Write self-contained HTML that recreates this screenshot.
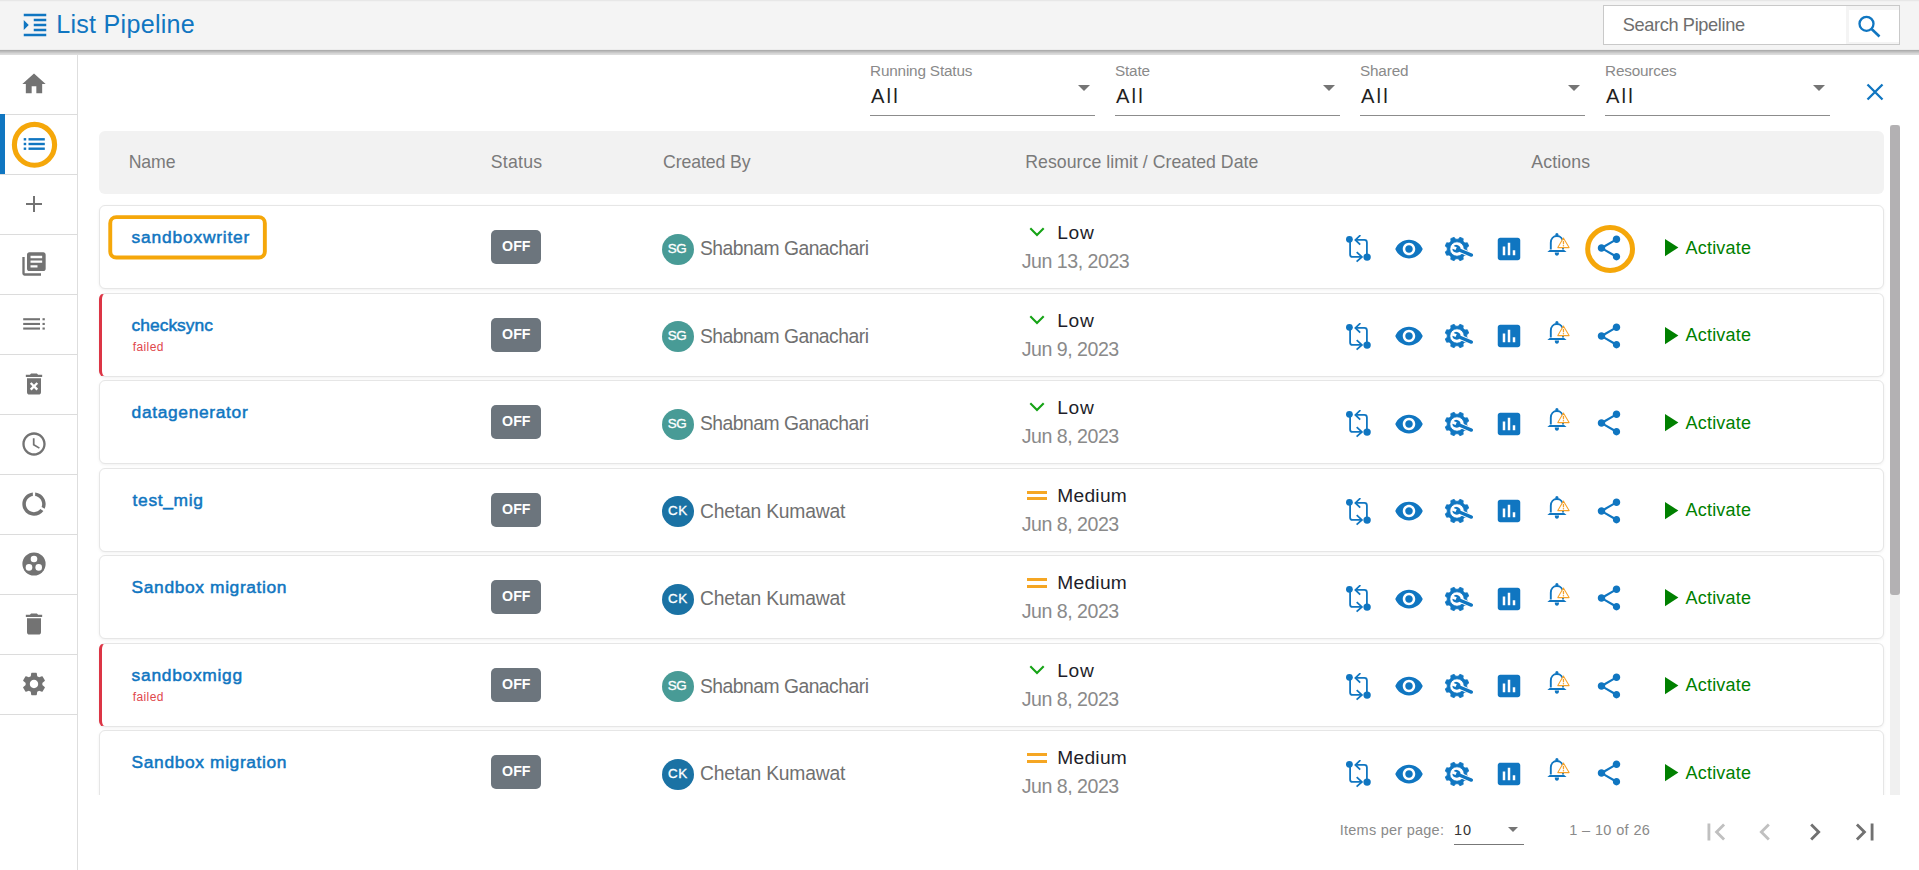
<!DOCTYPE html><html><head><meta charset="utf-8"><style>
*{margin:0;padding:0;box-sizing:border-box}
html,body{width:1919px;height:870px;overflow:hidden;background:#fff;font-family:"Liberation Sans",sans-serif}
.t{position:absolute;line-height:1;white-space:nowrap}
.a{position:absolute}
svg{position:absolute;overflow:visible}
</style></head><body>
<svg width="0" height="0" style="position:absolute">
<defs>
<symbol id="cmp" viewBox="0 0 28 28">
 <g fill="none" stroke="#1076c1" stroke-width="1.8">
  <path d="M5.1 4.3 V19.4 Q5.1 21.9 7.6 21.9 H16.8"/>
  <path d="M11.7 17.1 L16.9 21.9 L11.6 26.6"/>
  <path d="M21.9 22.1 V7.4 Q21.9 4.9 19.4 4.9 H10.6"/>
  <path d="M15.4 0.2 L10.4 4.9 L15.2 9.6"/>
 </g>
 <circle cx="4.4" cy="4.3" r="3.4" fill="#1076c1"/>
 <circle cx="22.1" cy="22.1" r="3.7" fill="#1076c1"/>
</symbol>
<symbol id="eye" viewBox="0 0 24 24"><path fill="#1076c1" d="M12 4.5C7 4.5 2.73 7.61 1 12c1.73 4.39 6 7.5 11 7.5s9.27-3.11 11-7.5c-1.73-4.39-6-7.5-11-7.5zM12 17c-2.76 0-5-2.24-5-5s2.24-5 5-5 5 2.24 5 5-2.24 5-5 5zm0-8c-1.66 0-3 1.34-3 3s1.34 3 3 3 3-1.34 3-3-1.34-3-3-3z"/></symbol>
<symbol id="chart" viewBox="0 0 24 24"><path fill="#1076c1" d="M19 3H5c-1.1 0-2 .9-2 2v14c0 1.1.9 2 2 2h14c1.1 0 2-.9 2-2V5c0-1.1-.9-2-2-2zM9 17H7v-7h2v7zm4 0h-2V7h2v10zm4 0h-2v-4h2v4z"/></symbol>
<symbol id="share" viewBox="0 0 24 24"><path fill="#1076c1" d="M18 16.08c-.76 0-1.44.3-1.96.77L8.91 12.7c.05-.23.09-.46.09-.7s-.04-.47-.09-.7l7.05-4.11c.54.5 1.25.81 2.04.81 1.66 0 3-1.34 3-3s-1.34-3-3-3-3 1.34-3 3c0 .24.04.47.09.7L8.04 9.81C7.5 9.31 6.79 9 6 9c-1.66 0-3 1.34-3 3s1.34 3 3 3c.79 0 1.5-.31 2.04-.81l7.12 4.16c-.05.21-.08.43-.08.65 0 1.61 1.31 2.92 2.92 2.92 1.61 0 2.92-1.31 2.92-2.92s-1.31-2.92-2.92-2.92z"/></symbol>
<symbol id="bell" viewBox="0 0 28 28">
 <circle cx="11.9" cy="3.7" r="1.6" fill="#1076c1"/>
 <path d="M5.8 18.6 V11.8 C5.8 7.7 8.5 5 11.9 5 C15.3 5 18 7.7 18 11.8 V18.6" fill="none" stroke="#1076c1" stroke-width="1.9"/>
 <path d="M2.4 21 L4.6 19 H19.2 L21.5 21 Z" fill="#1076c1"/>
 <path d="M9.8 21.5 H14 A2.1 3.3 0 0 1 9.8 21.5 Z" fill="#1076c1"/>
 <path d="M18.4 7 L24.1 16.6 H12.8 Z" fill="#fff" stroke="#f5a12a" stroke-width="1.05" stroke-linejoin="round"/>
 <path d="M18.45 9.9 V13.3" stroke="#f5a12a" stroke-width="1.3"/><circle cx="18.45" cy="14.8" r=".75" fill="#f5a12a"/>
</symbol>
<symbol id="warn" viewBox="0 0 14 13">
 <path d="M7 1 L13 12 H1 Z" fill="#fff" stroke="#f39c12" stroke-width="1.1" stroke-linejoin="round"/>
 <path d="M7 4.5 V8.5" stroke="#f39c12" stroke-width="1.2"/><circle cx="7" cy="10.2" r=".7" fill="#f39c12"/>
</symbol>
<symbol id="gw" viewBox="0 0 30 26">
 <g fill="#1076c1">
  <path id="gearpath" fill-rule="evenodd" d=""/>
 </g>
</symbol>
</defs></svg>
<div class="a" style="left:0;top:0;width:1919px;height:50px;background:linear-gradient(#e7e7e7 0,#e7e7e7 1px,#f1f1f1 1px,#f1f1f1 2px,#f4f4f4 2px);z-index:5"></div>
<div class="a" style="left:0;top:49px;width:1919px;height:1px;background:#ededed;z-index:5"></div>
<div class="a" style="left:0;top:50px;width:1919px;height:5px;background:linear-gradient(#adadad 0,#adadad 1px,#bbb 1px,#bbb 2px,#c8c8c8 2px,#c8c8c8 3px,#d5d5d5 3px,#d5d5d5 4px,#dcdcdc 4px);z-index:5"></div>
<svg style="left:20px;top:10px;z-index:6" width="30" height="30" viewBox="0 0 24 24"><path fill="#1076c1" d="M3 21h18v-2H3v2zM3 8v8l4-4-4-4zm8 9h10v-2H11v2zM3 3v2h18V3H3zm8 6h10V7H11v2zm0 4h10v-2H11v2z"/></svg>
<div class="t" style="left:56.20px;top:12px;font-size:25.1px;color:#1076c1;font-weight:400;letter-spacing:0.275px;z-index:6">List Pipeline</div>
<div class="a" style="left:1603px;top:5px;width:297px;height:40px;background:#fff;border:1px solid #c9c9c9;z-index:6"></div>
<div class="a" style="left:1846px;top:6px;width:53px;height:38px;background:#f4f4f4;z-index:6"></div>
<div class="a" style="left:1849px;top:10px;width:50px;height:32px;background:#fff;z-index:6"></div>
<div class="t" style="left:1622.70px;top:16px;font-size:18.2px;color:#6e6e6e;font-weight:400;letter-spacing:-0.357px;z-index:7">Search Pipeline</div>
<svg style="left:1857px;top:14px;z-index:7" width="26" height="26" viewBox="0 0 26 26"><circle cx="9.5" cy="9.8" r="7" fill="none" stroke="#1076c1" stroke-width="2.3"/><path d="M14.6 15 L22.5 22.5" stroke="#1076c1" stroke-width="2.6"/></svg><div class="a" style="left:0;top:50px;width:78px;height:820px;border-right:1px solid #dedede;background:#fff"></div>
<div class="a" style="left:0;top:114px;width:77px;height:1px;background:#dcdcdc"></div>
<svg style="left:20.0px;top:70.0px" width="28" height="28" viewBox="0 0 24 24"><path fill="#737373" d="M10 20v-6h4v6h5v-8h3L12 3 2 12h3v8z"/></svg>
<div class="a" style="left:0;top:174px;width:77px;height:1px;background:#dcdcdc"></div>
<div class="a" style="left:0;top:114px;width:5px;height:60px;background:#1076c1"></div>
<svg style="left:22px;top:132px" width="24" height="24" viewBox="0 0 24 24"><g fill="#1076c1"><rect x="1.7" y="6.1" width="2.5" height="2.4"/><rect x="1.7" y="10.8" width="2.5" height="2.4"/><rect x="1.7" y="15.5" width="2.5" height="2.4"/><rect x="6.5" y="6.1" width="16.3" height="2.4"/><rect x="6.5" y="10.8" width="16.3" height="2.4"/><rect x="6.5" y="15.5" width="16.3" height="2.4"/></g></svg>
<svg style="left:0;top:100px" width="70" height="90"><ellipse cx="34.5" cy="44.85" rx="20.1" ry="20.45" fill="none" stroke="#f5a70a" stroke-width="5.1"/></svg>
<div class="a" style="left:0;top:234px;width:77px;height:1px;background:#dcdcdc"></div>
<div class="a" style="left:25.5px;top:203.2px;width:16.7px;height:1.7px;background:#737373"></div>
<div class="a" style="left:33.05px;top:195.9px;width:1.7px;height:16.2px;background:#737373"></div>
<div class="a" style="left:0;top:294px;width:77px;height:1px;background:#dcdcdc"></div>
<svg style="left:20.0px;top:250.0px" width="28" height="28" viewBox="0 0 24 24"><path fill="#737373" d="M4 6H2v14c0 1.1.9 2 2 2h14v-2H4V6zm16-4H8c-1.1 0-2 .9-2 2v12c0 1.1.9 2 2 2h12c1.1 0 2-.9 2-2V4c0-1.1-.9-2-2-2zm-1 9H9V9h10v2zm-4 4H9v-2h6v2zm4-8H9V5h10v2z"/></svg>
<div class="a" style="left:0;top:354px;width:77px;height:1px;background:#dcdcdc"></div>
<svg style="left:22px;top:312px" width="24" height="24" viewBox="0 0 24 24"><g fill="#737373"><rect x="1.2" y="6.2" width="16.8" height="2.1"/><rect x="1.2" y="10.9" width="16.8" height="2.1"/><rect x="1.2" y="15.5" width="16.8" height="2.1"/><rect x="20.5" y="6.2" width="2.3" height="2.1"/><rect x="20.5" y="10.9" width="2.3" height="2.1"/><rect x="20.5" y="15.5" width="2.3" height="2.1"/></g></svg>
<div class="a" style="left:0;top:414px;width:77px;height:1px;background:#dcdcdc"></div>
<svg style="left:20.0px;top:370.0px" width="28" height="28" viewBox="0 0 24 24"><path fill="#737373" d="M6 19c0 1.1.9 2 2 2h8c1.1 0 2-.9 2-2V7H6v12zm2.46-7.12l1.41-1.41L12 12.59l2.12-2.12 1.41 1.41L13.41 14l2.12 2.12-1.41 1.41L12 15.41l-2.12 2.12-1.41-1.41L10.59 14l-2.13-2.12zM15.5 4l-1-1h-5l-1 1H5v2h14V4z"/></svg>
<div class="a" style="left:0;top:474px;width:77px;height:1px;background:#dcdcdc"></div>
<svg style="left:20.0px;top:430.0px" width="28" height="28" viewBox="0 0 24 24"><path fill="#737373" d="M11.99 2C6.47 2 2 6.48 2 12s4.47 10 9.99 10C17.52 22 22 17.52 22 12S17.52 2 11.99 2zM12 20c-4.42 0-8-3.58-8-8s3.58-8 8-8 8 3.58 8 8-3.58 8-8 8zm.5-13H11v6l5.25 3.15.75-1.23-4.5-2.67z"/></svg>
<div class="a" style="left:0;top:534px;width:77px;height:1px;background:#dcdcdc"></div>
<svg style="left:20.0px;top:490.0px" width="28" height="28" viewBox="0 0 24 24"><path fill="#737373" d="M13 2.05v3.03c3.39.49 6 3.39 6 6.92 0 .9-.18 1.75-.48 2.54l2.6 1.53c.56-1.24.88-2.62.88-4.07 0-5.18-3.95-9.45-9-9.95zM12 19c-3.87 0-7-3.13-7-7 0-3.53 2.61-6.43 6-6.92V2.05c-5.06.5-9 4.76-9 9.95 0 5.52 4.47 10 9.99 10 3.31 0 6.24-1.61 8.06-4.09l-2.6-1.53C16.17 17.98 14.21 19 12 19z"/></svg>
<div class="a" style="left:0;top:594px;width:77px;height:1px;background:#dcdcdc"></div>
<svg style="left:22px;top:552px" width="24" height="24" viewBox="0 0 24 24"><circle cx="12" cy="12" r="11.6" fill="#737373"/><g fill="#fff"><circle cx="12" cy="7" r="3.3"/><circle cx="7" cy="15.4" r="3.3"/><circle cx="16.7" cy="15.4" r="3.3"/></g></svg>
<div class="a" style="left:0;top:654px;width:77px;height:1px;background:#dcdcdc"></div>
<svg style="left:20.0px;top:610.0px" width="28" height="28" viewBox="0 0 24 24"><path fill="#737373" d="M6 19c0 1.1.9 2 2 2h8c1.1 0 2-.9 2-2V7H6v12zM19 4h-3.5l-1-1h-5l-1 1H5v2h14V4z"/></svg>
<div class="a" style="left:0;top:714px;width:77px;height:1px;background:#dcdcdc"></div>
<svg style="left:20.0px;top:670.0px" width="28" height="28" viewBox="0 0 24 24"><path fill="#737373" d="M19.14 12.94c.04-.3.06-.61.06-.94 0-.32-.02-.64-.07-.94l2.03-1.58c.18-.14.23-.41.12-.61l-1.92-3.32c-.12-.22-.37-.29-.59-.22l-2.39.96c-.5-.38-1.03-.7-1.62-.94L14.4 2.81c-.04-.24-.24-.41-.48-.41h-3.84c-.24 0-.43.17-.47.41L9.25 5.35C8.66 5.59 8.12 5.92 7.63 6.29L5.24 5.33c-.22-.08-.47 0-.59.22L2.74 8.87c-.12.21-.08.47.12.61l2.03 1.58c-.05.3-.09.63-.09.94s.02.64.07.94l-2.03 1.58c-.18.14-.23.41-.12.61l1.92 3.32c.12.22.37.29.59.22l2.39-.96c.5.38 1.03.7 1.62.94l.36 2.54c.05.24.24.41.48.41h3.84c.24 0 .44-.17.47-.41l.36-2.54c.59-.24 1.13-.56 1.62-.94l2.39.96c.22.08.47 0 .59-.22l1.92-3.32c.12-.22.07-.47-.12-.61l-2.01-1.58zM12 15.6c-1.98 0-3.6-1.62-3.6-3.6s1.62-3.6 3.6-3.6 3.6 1.62 3.6 3.6-1.62 3.6-3.6 3.6z"/></svg><div class="t" style="left:870.00px;top:63px;font-size:15.3px;color:#8a8a8a;font-weight:400;letter-spacing:-0.170px;">Running Status</div>
<div class="t" style="left:871.00px;top:86px;font-size:20.2px;color:#1f1f1f;font-weight:400;letter-spacing:2.150px;">All</div>
<div class="a" style="left:870px;top:115px;width:225px;height:1px;background:#8c8c8c"></div>
<div class="a" style="left:1078px;top:85px;width:0;height:0;border-left:6px solid transparent;border-right:6px solid transparent;border-top:6px solid #757575"></div>
<div class="t" style="left:1115.00px;top:63px;font-size:15.3px;color:#8a8a8a;font-weight:400;letter-spacing:-0.170px;">State</div>
<div class="t" style="left:1116.00px;top:86px;font-size:20.2px;color:#1f1f1f;font-weight:400;letter-spacing:2.150px;">All</div>
<div class="a" style="left:1115px;top:115px;width:225px;height:1px;background:#8c8c8c"></div>
<div class="a" style="left:1323px;top:85px;width:0;height:0;border-left:6px solid transparent;border-right:6px solid transparent;border-top:6px solid #757575"></div>
<div class="t" style="left:1360.00px;top:63px;font-size:15.3px;color:#8a8a8a;font-weight:400;letter-spacing:-0.170px;">Shared</div>
<div class="t" style="left:1361.00px;top:86px;font-size:20.2px;color:#1f1f1f;font-weight:400;letter-spacing:2.150px;">All</div>
<div class="a" style="left:1360px;top:115px;width:225px;height:1px;background:#8c8c8c"></div>
<div class="a" style="left:1568px;top:85px;width:0;height:0;border-left:6px solid transparent;border-right:6px solid transparent;border-top:6px solid #757575"></div>
<div class="t" style="left:1605.00px;top:63px;font-size:15.3px;color:#8a8a8a;font-weight:400;letter-spacing:-0.170px;">Resources</div>
<div class="t" style="left:1606.00px;top:86px;font-size:20.2px;color:#1f1f1f;font-weight:400;letter-spacing:2.150px;">All</div>
<div class="a" style="left:1605px;top:115px;width:225px;height:1px;background:#8c8c8c"></div>
<div class="a" style="left:1813px;top:85px;width:0;height:0;border-left:6px solid transparent;border-right:6px solid transparent;border-top:6px solid #757575"></div>
<svg style="left:1866px;top:83px" width="18" height="18" viewBox="0 0 18 18"><path d="M1.5 1.5L16.5 16.5M16.5 1.5L1.5 16.5" stroke="#1076c1" stroke-width="2.3"/></svg><div class="a" style="left:0;top:125px;width:1919px;height:670px;overflow:hidden">
<div class="a" style="left:0;top:-125px;width:1919px;height:870px">
<div class="a" style="left:99px;top:131px;width:1785px;height:62.5px;background:#f2f2f2;border-radius:6px"></div>
<div class="t" style="left:128.70px;top:154px;font-size:17.7px;color:#7a7a7a;font-weight:400;letter-spacing:-0.100px;">Name</div>
<div class="t" style="left:490.70px;top:154px;font-size:17.7px;color:#7a7a7a;font-weight:400;letter-spacing:0.260px;">Status</div>
<div class="t" style="left:663.10px;top:154px;font-size:17.7px;color:#7a7a7a;font-weight:400;letter-spacing:-0.111px;">Created By</div>
<div class="t" style="left:1025.30px;top:154px;font-size:17.7px;color:#7a7a7a;font-weight:400;letter-spacing:0.036px;">Resource limit / Created Date</div>
<div class="t" style="left:1531.20px;top:154px;font-size:17.7px;color:#7a7a7a;font-weight:400;letter-spacing:0.167px;">Actions</div>
<div class="a" style="left:99px;top:205.0px;width:1785px;height:84px;background:#fff;border:1px solid #e6e6e6;border-left:1px solid #e6e6e6;border-radius:6px;box-shadow:0 1px 3px rgba(0,0,0,.06)"></div>
<div class="t" style="left:131.60px;top:229px;font-size:17.4px;color:#1076c1;font-weight:400;letter-spacing:0.792px;-webkit-text-stroke:0.5px #1076c1">sandboxwriter</div>
<div class="a" style="left:491px;top:230.0px;width:50px;height:34px;background:#6c757d;border-radius:5px"></div>
<div class="t" style="left:502.10px;top:239px;font-size:14.2px;color:#fff;font-weight:700;letter-spacing:0.000px;">OFF</div>
<div class="a" style="left:662px;top:233.9px;width:32px;height:31px;border-radius:50%;background:#489b96"></div>
<div class="t" style="left:667.80px;top:242px;font-size:13.4px;color:#fff;font-weight:400;letter-spacing:-0.400px;-webkit-text-stroke:0.35px #fff">SG</div>
<div class="t" style="left:699.90px;top:239px;font-size:19.3px;color:#707070;font-weight:400;letter-spacing:-0.488px;">Shabnam Ganachari</div>
<svg style="left:1029px;top:227.0px" width="16" height="11" viewBox="0 0 16 11"><path d="M1.3 1.3 L8 8 L14.7 1.3" fill="none" stroke="#15a315" stroke-width="2.1"/></svg>
<div class="t" style="left:1057.20px;top:223px;font-size:19.2px;color:#1e1e2a;font-weight:400;letter-spacing:0.700px;">Low</div>
<div class="t" style="left:1021.80px;top:252px;font-size:19.6px;color:#8a8a8a;font-weight:400;letter-spacing:-0.491px;">Jun 13, 2023</div>
<svg style="left:1345px;top:235.0px" width="28" height="28"><use href="#cmp"/></svg>
<svg style="left:1394.1px;top:233.5px" width="30" height="30"><use href="#eye"/></svg>
<svg style="left:1442px;top:233.8px" width="30" height="30" viewBox="-15 -15 30 30"><path fill="#1076c1" stroke="#1076c1" stroke-width="0.8" stroke-linejoin="round" fill-rule="evenodd" d="M1.28 -9.72 L2.93 -11.74 L6.23 -10.37 L5.97 -7.77 L6.93 -6.93 L7.77 -5.97 L10.37 -6.23 L11.74 -2.93 L9.72 -1.28 L9.80 0.00 L9.72 1.28 L11.74 2.93 L10.37 6.23 L7.77 5.97 L6.93 6.93 L5.97 7.77 L6.23 10.37 L2.93 11.74 L1.28 9.72 L0.00 9.80 L-1.28 9.72 L-2.93 11.74 L-6.23 10.37 L-5.97 7.77 L-6.93 6.93 L-7.77 5.97 L-10.37 6.23 L-11.74 2.93 L-9.72 1.28 L-9.80 0.00 L-9.72 -1.28 L-11.74 -2.93 L-10.37 -6.23 L-7.77 -5.97 L-6.93 -6.93 L-5.97 -7.77 L-6.23 -10.37 L-2.93 -11.74 L-1.28 -9.72 L-0.00 -9.80 Z M 7.2 0 A 7.2 7.2 0 1 0 -7.2 0 A 7.2 7.2 0 1 0 7.2 0 Z"/><g transform="rotate(23)"><line x1="2.5" y1="0" x2="15.6" y2="0" stroke="#fff" stroke-width="5.2" stroke-linecap="round"/><line x1="2.5" y1="0" x2="15.6" y2="0" stroke="#1076c1" stroke-width="3.4" stroke-linecap="round"/><circle cx="-0.6" cy="0" r="3.9" fill="#1076c1"/><path d="M-5 -1.45 L-0.9 -1.45 L-0.9 1.45 L-5 1.45 Z" fill="#fff"/></g></svg>
<svg style="left:1494px;top:233.5px" width="30" height="30"><use href="#chart"/></svg>
<svg style="left:1545px;top:231.0px" width="28" height="28"><use href="#bell"/></svg>
<svg style="left:1594px;top:233.4px" width="30" height="30"><use href="#share"/></svg>
<svg style="left:1664.8px;top:239.3px" width="14" height="18"><path d="M0 0 L13.4 8.6 L0 17.2 Z" fill="#008000"/></svg>
<div class="t" style="left:1685.60px;top:239px;font-size:18px;color:#008000;font-weight:400;letter-spacing:0.186px;">Activate</div>
<div class="a" style="left:99px;top:292.5px;width:1785px;height:84px;background:#fff;border:1px solid #e6e6e6;border-left:3px solid #dc3545;border-radius:6px;box-shadow:0 1px 3px rgba(0,0,0,.06)"></div>
<div class="t" style="left:131.60px;top:317px;font-size:17.4px;color:#1076c1;font-weight:400;letter-spacing:0.012px;-webkit-text-stroke:0.5px #1076c1">checksync</div>
<div class="t" style="left:132.70px;top:341px;font-size:12px;color:#e0474c;font-weight:400;letter-spacing:0.400px;">failed</div>
<div class="a" style="left:491px;top:317.5px;width:50px;height:34px;background:#6c757d;border-radius:5px"></div>
<div class="t" style="left:502.10px;top:327px;font-size:14.2px;color:#fff;font-weight:700;letter-spacing:0.000px;">OFF</div>
<div class="a" style="left:662px;top:321.4px;width:32px;height:31px;border-radius:50%;background:#489b96"></div>
<div class="t" style="left:667.80px;top:329px;font-size:13.4px;color:#fff;font-weight:400;letter-spacing:-0.400px;-webkit-text-stroke:0.35px #fff">SG</div>
<div class="t" style="left:699.90px;top:327px;font-size:19.3px;color:#707070;font-weight:400;letter-spacing:-0.488px;">Shabnam Ganachari</div>
<svg style="left:1029px;top:314.5px" width="16" height="11" viewBox="0 0 16 11"><path d="M1.3 1.3 L8 8 L14.7 1.3" fill="none" stroke="#15a315" stroke-width="2.1"/></svg>
<div class="t" style="left:1057.20px;top:311px;font-size:19.2px;color:#1e1e2a;font-weight:400;letter-spacing:0.700px;">Low</div>
<div class="t" style="left:1021.80px;top:340px;font-size:19.6px;color:#8a8a8a;font-weight:400;letter-spacing:-0.500px;">Jun 9, 2023</div>
<svg style="left:1345px;top:322.5px" width="28" height="28"><use href="#cmp"/></svg>
<svg style="left:1394.1px;top:321.0px" width="30" height="30"><use href="#eye"/></svg>
<svg style="left:1442px;top:321.3px" width="30" height="30" viewBox="-15 -15 30 30"><path fill="#1076c1" stroke="#1076c1" stroke-width="0.8" stroke-linejoin="round" fill-rule="evenodd" d="M1.28 -9.72 L2.93 -11.74 L6.23 -10.37 L5.97 -7.77 L6.93 -6.93 L7.77 -5.97 L10.37 -6.23 L11.74 -2.93 L9.72 -1.28 L9.80 0.00 L9.72 1.28 L11.74 2.93 L10.37 6.23 L7.77 5.97 L6.93 6.93 L5.97 7.77 L6.23 10.37 L2.93 11.74 L1.28 9.72 L0.00 9.80 L-1.28 9.72 L-2.93 11.74 L-6.23 10.37 L-5.97 7.77 L-6.93 6.93 L-7.77 5.97 L-10.37 6.23 L-11.74 2.93 L-9.72 1.28 L-9.80 0.00 L-9.72 -1.28 L-11.74 -2.93 L-10.37 -6.23 L-7.77 -5.97 L-6.93 -6.93 L-5.97 -7.77 L-6.23 -10.37 L-2.93 -11.74 L-1.28 -9.72 L-0.00 -9.80 Z M 7.2 0 A 7.2 7.2 0 1 0 -7.2 0 A 7.2 7.2 0 1 0 7.2 0 Z"/><g transform="rotate(23)"><line x1="2.5" y1="0" x2="15.6" y2="0" stroke="#fff" stroke-width="5.2" stroke-linecap="round"/><line x1="2.5" y1="0" x2="15.6" y2="0" stroke="#1076c1" stroke-width="3.4" stroke-linecap="round"/><circle cx="-0.6" cy="0" r="3.9" fill="#1076c1"/><path d="M-5 -1.45 L-0.9 -1.45 L-0.9 1.45 L-5 1.45 Z" fill="#fff"/></g></svg>
<svg style="left:1494px;top:321.0px" width="30" height="30"><use href="#chart"/></svg>
<svg style="left:1545px;top:318.5px" width="28" height="28"><use href="#bell"/></svg>
<svg style="left:1594px;top:320.9px" width="30" height="30"><use href="#share"/></svg>
<svg style="left:1664.8px;top:326.8px" width="14" height="18"><path d="M0 0 L13.4 8.6 L0 17.2 Z" fill="#008000"/></svg>
<div class="t" style="left:1685.60px;top:326px;font-size:18px;color:#008000;font-weight:400;letter-spacing:0.186px;">Activate</div>
<div class="a" style="left:99px;top:380.0px;width:1785px;height:84px;background:#fff;border:1px solid #e6e6e6;border-left:1px solid #e6e6e6;border-radius:6px;box-shadow:0 1px 3px rgba(0,0,0,.06)"></div>
<div class="t" style="left:131.60px;top:404px;font-size:17.4px;color:#1076c1;font-weight:400;letter-spacing:0.650px;-webkit-text-stroke:0.5px #1076c1">datagenerator</div>
<div class="a" style="left:491px;top:405.0px;width:50px;height:34px;background:#6c757d;border-radius:5px"></div>
<div class="t" style="left:502.10px;top:414px;font-size:14.2px;color:#fff;font-weight:700;letter-spacing:0.000px;">OFF</div>
<div class="a" style="left:662px;top:408.9px;width:32px;height:31px;border-radius:50%;background:#489b96"></div>
<div class="t" style="left:667.80px;top:417px;font-size:13.4px;color:#fff;font-weight:400;letter-spacing:-0.400px;-webkit-text-stroke:0.35px #fff">SG</div>
<div class="t" style="left:699.90px;top:414px;font-size:19.3px;color:#707070;font-weight:400;letter-spacing:-0.488px;">Shabnam Ganachari</div>
<svg style="left:1029px;top:402.0px" width="16" height="11" viewBox="0 0 16 11"><path d="M1.3 1.3 L8 8 L14.7 1.3" fill="none" stroke="#15a315" stroke-width="2.1"/></svg>
<div class="t" style="left:1057.20px;top:398px;font-size:19.2px;color:#1e1e2a;font-weight:400;letter-spacing:0.700px;">Low</div>
<div class="t" style="left:1021.80px;top:427px;font-size:19.6px;color:#8a8a8a;font-weight:400;letter-spacing:-0.500px;">Jun 8, 2023</div>
<svg style="left:1345px;top:410.0px" width="28" height="28"><use href="#cmp"/></svg>
<svg style="left:1394.1px;top:408.5px" width="30" height="30"><use href="#eye"/></svg>
<svg style="left:1442px;top:408.8px" width="30" height="30" viewBox="-15 -15 30 30"><path fill="#1076c1" stroke="#1076c1" stroke-width="0.8" stroke-linejoin="round" fill-rule="evenodd" d="M1.28 -9.72 L2.93 -11.74 L6.23 -10.37 L5.97 -7.77 L6.93 -6.93 L7.77 -5.97 L10.37 -6.23 L11.74 -2.93 L9.72 -1.28 L9.80 0.00 L9.72 1.28 L11.74 2.93 L10.37 6.23 L7.77 5.97 L6.93 6.93 L5.97 7.77 L6.23 10.37 L2.93 11.74 L1.28 9.72 L0.00 9.80 L-1.28 9.72 L-2.93 11.74 L-6.23 10.37 L-5.97 7.77 L-6.93 6.93 L-7.77 5.97 L-10.37 6.23 L-11.74 2.93 L-9.72 1.28 L-9.80 0.00 L-9.72 -1.28 L-11.74 -2.93 L-10.37 -6.23 L-7.77 -5.97 L-6.93 -6.93 L-5.97 -7.77 L-6.23 -10.37 L-2.93 -11.74 L-1.28 -9.72 L-0.00 -9.80 Z M 7.2 0 A 7.2 7.2 0 1 0 -7.2 0 A 7.2 7.2 0 1 0 7.2 0 Z"/><g transform="rotate(23)"><line x1="2.5" y1="0" x2="15.6" y2="0" stroke="#fff" stroke-width="5.2" stroke-linecap="round"/><line x1="2.5" y1="0" x2="15.6" y2="0" stroke="#1076c1" stroke-width="3.4" stroke-linecap="round"/><circle cx="-0.6" cy="0" r="3.9" fill="#1076c1"/><path d="M-5 -1.45 L-0.9 -1.45 L-0.9 1.45 L-5 1.45 Z" fill="#fff"/></g></svg>
<svg style="left:1494px;top:408.5px" width="30" height="30"><use href="#chart"/></svg>
<svg style="left:1545px;top:406.0px" width="28" height="28"><use href="#bell"/></svg>
<svg style="left:1594px;top:408.4px" width="30" height="30"><use href="#share"/></svg>
<svg style="left:1664.8px;top:414.3px" width="14" height="18"><path d="M0 0 L13.4 8.6 L0 17.2 Z" fill="#008000"/></svg>
<div class="t" style="left:1685.60px;top:414px;font-size:18px;color:#008000;font-weight:400;letter-spacing:0.186px;">Activate</div>
<div class="a" style="left:99px;top:467.5px;width:1785px;height:84px;background:#fff;border:1px solid #e6e6e6;border-left:1px solid #e6e6e6;border-radius:6px;box-shadow:0 1px 3px rgba(0,0,0,.06)"></div>
<div class="t" style="left:132.60px;top:492px;font-size:17.4px;color:#1076c1;font-weight:400;letter-spacing:0.643px;-webkit-text-stroke:0.5px #1076c1">test_mig</div>
<div class="a" style="left:491px;top:492.5px;width:50px;height:34px;background:#6c757d;border-radius:5px"></div>
<div class="t" style="left:502.10px;top:502px;font-size:14.2px;color:#fff;font-weight:700;letter-spacing:0.000px;">OFF</div>
<div class="a" style="left:662px;top:496.4px;width:32px;height:31px;border-radius:50%;background:#1a72a4"></div>
<div class="t" style="left:668.10px;top:504px;font-size:13.4px;color:#fff;font-weight:400;letter-spacing:0.600px;-webkit-text-stroke:0.35px #fff">CK</div>
<div class="t" style="left:699.90px;top:502px;font-size:19.3px;color:#707070;font-weight:400;letter-spacing:-0.185px;">Chetan Kumawat</div>
<div class="a" style="left:1026.5px;top:490.8px;width:20px;height:3px;background:#f5a623"></div>
<div class="a" style="left:1026.5px;top:497.0px;width:20px;height:3px;background:#f5a623"></div>
<div class="t" style="left:1057.20px;top:486px;font-size:19.2px;color:#1e1e2a;font-weight:400;letter-spacing:0.280px;">Medium</div>
<div class="t" style="left:1021.80px;top:515px;font-size:19.6px;color:#8a8a8a;font-weight:400;letter-spacing:-0.500px;">Jun 8, 2023</div>
<svg style="left:1345px;top:497.5px" width="28" height="28"><use href="#cmp"/></svg>
<svg style="left:1394.1px;top:496.0px" width="30" height="30"><use href="#eye"/></svg>
<svg style="left:1442px;top:496.3px" width="30" height="30" viewBox="-15 -15 30 30"><path fill="#1076c1" stroke="#1076c1" stroke-width="0.8" stroke-linejoin="round" fill-rule="evenodd" d="M1.28 -9.72 L2.93 -11.74 L6.23 -10.37 L5.97 -7.77 L6.93 -6.93 L7.77 -5.97 L10.37 -6.23 L11.74 -2.93 L9.72 -1.28 L9.80 0.00 L9.72 1.28 L11.74 2.93 L10.37 6.23 L7.77 5.97 L6.93 6.93 L5.97 7.77 L6.23 10.37 L2.93 11.74 L1.28 9.72 L0.00 9.80 L-1.28 9.72 L-2.93 11.74 L-6.23 10.37 L-5.97 7.77 L-6.93 6.93 L-7.77 5.97 L-10.37 6.23 L-11.74 2.93 L-9.72 1.28 L-9.80 0.00 L-9.72 -1.28 L-11.74 -2.93 L-10.37 -6.23 L-7.77 -5.97 L-6.93 -6.93 L-5.97 -7.77 L-6.23 -10.37 L-2.93 -11.74 L-1.28 -9.72 L-0.00 -9.80 Z M 7.2 0 A 7.2 7.2 0 1 0 -7.2 0 A 7.2 7.2 0 1 0 7.2 0 Z"/><g transform="rotate(23)"><line x1="2.5" y1="0" x2="15.6" y2="0" stroke="#fff" stroke-width="5.2" stroke-linecap="round"/><line x1="2.5" y1="0" x2="15.6" y2="0" stroke="#1076c1" stroke-width="3.4" stroke-linecap="round"/><circle cx="-0.6" cy="0" r="3.9" fill="#1076c1"/><path d="M-5 -1.45 L-0.9 -1.45 L-0.9 1.45 L-5 1.45 Z" fill="#fff"/></g></svg>
<svg style="left:1494px;top:496.0px" width="30" height="30"><use href="#chart"/></svg>
<svg style="left:1545px;top:493.5px" width="28" height="28"><use href="#bell"/></svg>
<svg style="left:1594px;top:495.9px" width="30" height="30"><use href="#share"/></svg>
<svg style="left:1664.8px;top:501.8px" width="14" height="18"><path d="M0 0 L13.4 8.6 L0 17.2 Z" fill="#008000"/></svg>
<div class="t" style="left:1685.60px;top:501px;font-size:18px;color:#008000;font-weight:400;letter-spacing:0.186px;">Activate</div>
<div class="a" style="left:99px;top:555.0px;width:1785px;height:84px;background:#fff;border:1px solid #e6e6e6;border-left:1px solid #e6e6e6;border-radius:6px;box-shadow:0 1px 3px rgba(0,0,0,.06)"></div>
<div class="t" style="left:131.60px;top:579px;font-size:17.4px;color:#1076c1;font-weight:400;letter-spacing:0.619px;-webkit-text-stroke:0.5px #1076c1">Sandbox migration</div>
<div class="a" style="left:491px;top:580.0px;width:50px;height:34px;background:#6c757d;border-radius:5px"></div>
<div class="t" style="left:502.10px;top:589px;font-size:14.2px;color:#fff;font-weight:700;letter-spacing:0.000px;">OFF</div>
<div class="a" style="left:662px;top:583.9px;width:32px;height:31px;border-radius:50%;background:#1a72a4"></div>
<div class="t" style="left:668.10px;top:592px;font-size:13.4px;color:#fff;font-weight:400;letter-spacing:0.600px;-webkit-text-stroke:0.35px #fff">CK</div>
<div class="t" style="left:699.90px;top:589px;font-size:19.3px;color:#707070;font-weight:400;letter-spacing:-0.185px;">Chetan Kumawat</div>
<div class="a" style="left:1026.5px;top:578.3px;width:20px;height:3px;background:#f5a623"></div>
<div class="a" style="left:1026.5px;top:584.5px;width:20px;height:3px;background:#f5a623"></div>
<div class="t" style="left:1057.20px;top:573px;font-size:19.2px;color:#1e1e2a;font-weight:400;letter-spacing:0.280px;">Medium</div>
<div class="t" style="left:1021.80px;top:602px;font-size:19.6px;color:#8a8a8a;font-weight:400;letter-spacing:-0.500px;">Jun 8, 2023</div>
<svg style="left:1345px;top:585.0px" width="28" height="28"><use href="#cmp"/></svg>
<svg style="left:1394.1px;top:583.5px" width="30" height="30"><use href="#eye"/></svg>
<svg style="left:1442px;top:583.8px" width="30" height="30" viewBox="-15 -15 30 30"><path fill="#1076c1" stroke="#1076c1" stroke-width="0.8" stroke-linejoin="round" fill-rule="evenodd" d="M1.28 -9.72 L2.93 -11.74 L6.23 -10.37 L5.97 -7.77 L6.93 -6.93 L7.77 -5.97 L10.37 -6.23 L11.74 -2.93 L9.72 -1.28 L9.80 0.00 L9.72 1.28 L11.74 2.93 L10.37 6.23 L7.77 5.97 L6.93 6.93 L5.97 7.77 L6.23 10.37 L2.93 11.74 L1.28 9.72 L0.00 9.80 L-1.28 9.72 L-2.93 11.74 L-6.23 10.37 L-5.97 7.77 L-6.93 6.93 L-7.77 5.97 L-10.37 6.23 L-11.74 2.93 L-9.72 1.28 L-9.80 0.00 L-9.72 -1.28 L-11.74 -2.93 L-10.37 -6.23 L-7.77 -5.97 L-6.93 -6.93 L-5.97 -7.77 L-6.23 -10.37 L-2.93 -11.74 L-1.28 -9.72 L-0.00 -9.80 Z M 7.2 0 A 7.2 7.2 0 1 0 -7.2 0 A 7.2 7.2 0 1 0 7.2 0 Z"/><g transform="rotate(23)"><line x1="2.5" y1="0" x2="15.6" y2="0" stroke="#fff" stroke-width="5.2" stroke-linecap="round"/><line x1="2.5" y1="0" x2="15.6" y2="0" stroke="#1076c1" stroke-width="3.4" stroke-linecap="round"/><circle cx="-0.6" cy="0" r="3.9" fill="#1076c1"/><path d="M-5 -1.45 L-0.9 -1.45 L-0.9 1.45 L-5 1.45 Z" fill="#fff"/></g></svg>
<svg style="left:1494px;top:583.5px" width="30" height="30"><use href="#chart"/></svg>
<svg style="left:1545px;top:581.0px" width="28" height="28"><use href="#bell"/></svg>
<svg style="left:1594px;top:583.4px" width="30" height="30"><use href="#share"/></svg>
<svg style="left:1664.8px;top:589.3px" width="14" height="18"><path d="M0 0 L13.4 8.6 L0 17.2 Z" fill="#008000"/></svg>
<div class="t" style="left:1685.60px;top:589px;font-size:18px;color:#008000;font-weight:400;letter-spacing:0.186px;">Activate</div>
<div class="a" style="left:99px;top:642.5px;width:1785px;height:84px;background:#fff;border:1px solid #e6e6e6;border-left:3px solid #dc3545;border-radius:6px;box-shadow:0 1px 3px rgba(0,0,0,.06)"></div>
<div class="t" style="left:131.60px;top:667px;font-size:17.4px;color:#1076c1;font-weight:400;letter-spacing:0.710px;-webkit-text-stroke:0.5px #1076c1">sandboxmigg</div>
<div class="t" style="left:132.70px;top:691px;font-size:12px;color:#e0474c;font-weight:400;letter-spacing:0.400px;">failed</div>
<div class="a" style="left:491px;top:667.5px;width:50px;height:34px;background:#6c757d;border-radius:5px"></div>
<div class="t" style="left:502.10px;top:677px;font-size:14.2px;color:#fff;font-weight:700;letter-spacing:0.000px;">OFF</div>
<div class="a" style="left:662px;top:671.4px;width:32px;height:31px;border-radius:50%;background:#489b96"></div>
<div class="t" style="left:667.80px;top:679px;font-size:13.4px;color:#fff;font-weight:400;letter-spacing:-0.400px;-webkit-text-stroke:0.35px #fff">SG</div>
<div class="t" style="left:699.90px;top:677px;font-size:19.3px;color:#707070;font-weight:400;letter-spacing:-0.488px;">Shabnam Ganachari</div>
<svg style="left:1029px;top:664.5px" width="16" height="11" viewBox="0 0 16 11"><path d="M1.3 1.3 L8 8 L14.7 1.3" fill="none" stroke="#15a315" stroke-width="2.1"/></svg>
<div class="t" style="left:1057.20px;top:661px;font-size:19.2px;color:#1e1e2a;font-weight:400;letter-spacing:0.700px;">Low</div>
<div class="t" style="left:1021.80px;top:690px;font-size:19.6px;color:#8a8a8a;font-weight:400;letter-spacing:-0.500px;">Jun 8, 2023</div>
<svg style="left:1345px;top:672.5px" width="28" height="28"><use href="#cmp"/></svg>
<svg style="left:1394.1px;top:671.0px" width="30" height="30"><use href="#eye"/></svg>
<svg style="left:1442px;top:671.3px" width="30" height="30" viewBox="-15 -15 30 30"><path fill="#1076c1" stroke="#1076c1" stroke-width="0.8" stroke-linejoin="round" fill-rule="evenodd" d="M1.28 -9.72 L2.93 -11.74 L6.23 -10.37 L5.97 -7.77 L6.93 -6.93 L7.77 -5.97 L10.37 -6.23 L11.74 -2.93 L9.72 -1.28 L9.80 0.00 L9.72 1.28 L11.74 2.93 L10.37 6.23 L7.77 5.97 L6.93 6.93 L5.97 7.77 L6.23 10.37 L2.93 11.74 L1.28 9.72 L0.00 9.80 L-1.28 9.72 L-2.93 11.74 L-6.23 10.37 L-5.97 7.77 L-6.93 6.93 L-7.77 5.97 L-10.37 6.23 L-11.74 2.93 L-9.72 1.28 L-9.80 0.00 L-9.72 -1.28 L-11.74 -2.93 L-10.37 -6.23 L-7.77 -5.97 L-6.93 -6.93 L-5.97 -7.77 L-6.23 -10.37 L-2.93 -11.74 L-1.28 -9.72 L-0.00 -9.80 Z M 7.2 0 A 7.2 7.2 0 1 0 -7.2 0 A 7.2 7.2 0 1 0 7.2 0 Z"/><g transform="rotate(23)"><line x1="2.5" y1="0" x2="15.6" y2="0" stroke="#fff" stroke-width="5.2" stroke-linecap="round"/><line x1="2.5" y1="0" x2="15.6" y2="0" stroke="#1076c1" stroke-width="3.4" stroke-linecap="round"/><circle cx="-0.6" cy="0" r="3.9" fill="#1076c1"/><path d="M-5 -1.45 L-0.9 -1.45 L-0.9 1.45 L-5 1.45 Z" fill="#fff"/></g></svg>
<svg style="left:1494px;top:671.0px" width="30" height="30"><use href="#chart"/></svg>
<svg style="left:1545px;top:668.5px" width="28" height="28"><use href="#bell"/></svg>
<svg style="left:1594px;top:670.9px" width="30" height="30"><use href="#share"/></svg>
<svg style="left:1664.8px;top:676.8px" width="14" height="18"><path d="M0 0 L13.4 8.6 L0 17.2 Z" fill="#008000"/></svg>
<div class="t" style="left:1685.60px;top:676px;font-size:18px;color:#008000;font-weight:400;letter-spacing:0.186px;">Activate</div>
<div class="a" style="left:99px;top:730.0px;width:1785px;height:84px;background:#fff;border:1px solid #e6e6e6;border-left:1px solid #e6e6e6;border-radius:6px;box-shadow:0 1px 3px rgba(0,0,0,.06)"></div>
<div class="t" style="left:131.60px;top:754px;font-size:17.4px;color:#1076c1;font-weight:400;letter-spacing:0.619px;-webkit-text-stroke:0.5px #1076c1">Sandbox migration</div>
<div class="a" style="left:491px;top:755.0px;width:50px;height:34px;background:#6c757d;border-radius:5px"></div>
<div class="t" style="left:502.10px;top:764px;font-size:14.2px;color:#fff;font-weight:700;letter-spacing:0.000px;">OFF</div>
<div class="a" style="left:662px;top:758.9px;width:32px;height:31px;border-radius:50%;background:#1a72a4"></div>
<div class="t" style="left:668.10px;top:767px;font-size:13.4px;color:#fff;font-weight:400;letter-spacing:0.600px;-webkit-text-stroke:0.35px #fff">CK</div>
<div class="t" style="left:699.90px;top:764px;font-size:19.3px;color:#707070;font-weight:400;letter-spacing:-0.185px;">Chetan Kumawat</div>
<div class="a" style="left:1026.5px;top:753.3px;width:20px;height:3px;background:#f5a623"></div>
<div class="a" style="left:1026.5px;top:759.5px;width:20px;height:3px;background:#f5a623"></div>
<div class="t" style="left:1057.20px;top:748px;font-size:19.2px;color:#1e1e2a;font-weight:400;letter-spacing:0.280px;">Medium</div>
<div class="t" style="left:1021.80px;top:777px;font-size:19.6px;color:#8a8a8a;font-weight:400;letter-spacing:-0.500px;">Jun 8, 2023</div>
<svg style="left:1345px;top:760.0px" width="28" height="28"><use href="#cmp"/></svg>
<svg style="left:1394.1px;top:758.5px" width="30" height="30"><use href="#eye"/></svg>
<svg style="left:1442px;top:758.8px" width="30" height="30" viewBox="-15 -15 30 30"><path fill="#1076c1" stroke="#1076c1" stroke-width="0.8" stroke-linejoin="round" fill-rule="evenodd" d="M1.28 -9.72 L2.93 -11.74 L6.23 -10.37 L5.97 -7.77 L6.93 -6.93 L7.77 -5.97 L10.37 -6.23 L11.74 -2.93 L9.72 -1.28 L9.80 0.00 L9.72 1.28 L11.74 2.93 L10.37 6.23 L7.77 5.97 L6.93 6.93 L5.97 7.77 L6.23 10.37 L2.93 11.74 L1.28 9.72 L0.00 9.80 L-1.28 9.72 L-2.93 11.74 L-6.23 10.37 L-5.97 7.77 L-6.93 6.93 L-7.77 5.97 L-10.37 6.23 L-11.74 2.93 L-9.72 1.28 L-9.80 0.00 L-9.72 -1.28 L-11.74 -2.93 L-10.37 -6.23 L-7.77 -5.97 L-6.93 -6.93 L-5.97 -7.77 L-6.23 -10.37 L-2.93 -11.74 L-1.28 -9.72 L-0.00 -9.80 Z M 7.2 0 A 7.2 7.2 0 1 0 -7.2 0 A 7.2 7.2 0 1 0 7.2 0 Z"/><g transform="rotate(23)"><line x1="2.5" y1="0" x2="15.6" y2="0" stroke="#fff" stroke-width="5.2" stroke-linecap="round"/><line x1="2.5" y1="0" x2="15.6" y2="0" stroke="#1076c1" stroke-width="3.4" stroke-linecap="round"/><circle cx="-0.6" cy="0" r="3.9" fill="#1076c1"/><path d="M-5 -1.45 L-0.9 -1.45 L-0.9 1.45 L-5 1.45 Z" fill="#fff"/></g></svg>
<svg style="left:1494px;top:758.5px" width="30" height="30"><use href="#chart"/></svg>
<svg style="left:1545px;top:756.0px" width="28" height="28"><use href="#bell"/></svg>
<svg style="left:1594px;top:758.4px" width="30" height="30"><use href="#share"/></svg>
<svg style="left:1664.8px;top:764.3px" width="14" height="18"><path d="M0 0 L13.4 8.6 L0 17.2 Z" fill="#008000"/></svg>
<div class="t" style="left:1685.60px;top:764px;font-size:18px;color:#008000;font-weight:400;letter-spacing:0.186px;">Activate</div>
<svg style="left:0;top:0" width="1919" height="870"><rect x="110.25" y="217.15" width="154.6" height="40.4" rx="6" fill="none" stroke="#f5a70a" stroke-width="3.9"/><ellipse cx="1610.1" cy="249" rx="22.4" ry="21.4" fill="none" stroke="#f5a70a" stroke-width="5"/></svg>
</div></div>
<div class="a" style="left:1890px;top:125px;width:10px;height:670px;background:#f0f0f0"></div>
<div class="a" style="left:1890px;top:125px;width:10px;height:470px;background:#b3b1b3;border-radius:3px"></div><div class="t" style="left:1339.70px;top:823px;font-size:14.5px;color:#8a8a8a;font-weight:400;letter-spacing:0.250px;">Items per page:</div>
<div class="t" style="left:1453.90px;top:823px;font-size:14.5px;color:#333;font-weight:400;letter-spacing:1.100px;">10</div>
<div class="a" style="left:1454px;top:844px;width:70px;height:1px;background:#777"></div>
<div class="a" style="left:1507.5px;top:827.2px;width:0;height:0;border-left:5.75px solid transparent;border-right:5.75px solid transparent;border-top:5.6px solid #757575"></div>
<div class="t" style="left:1569.30px;top:823px;font-size:14.5px;color:#8a8a8a;font-weight:400;letter-spacing:0.364px;">1 – 10 of 26</div>
<svg style="left:1698.6px;top:814.5px" width="34" height="34" viewBox="0 0 24 24"><path fill="#c0c0c0" d="M18.41 16.59L13.82 12l4.59-4.59L17 6l-6 6 6 6zM6 6h2v12H6z"/></svg>
<svg style="left:1748.1px;top:814.5px" width="34" height="34" viewBox="0 0 24 24"><path fill="#c0c0c0" d="M15.41 7.41L14 6l-6 6 6 6 1.41-1.41L10.83 12z"/></svg>
<svg style="left:1798.3px;top:814.5px" width="34" height="34" viewBox="0 0 24 24"><path fill="#717171" d="M10 6L8.59 7.41 13.17 12l-4.58 4.59L10 18l6-6z"/></svg>
<svg style="left:1848.2px;top:814.5px" width="34" height="34" viewBox="0 0 24 24"><path fill="#717171" d="M5.59 7.41L10.18 12l-4.59 4.59L7 18l6-6-6-6zM16 6h2v12h-2z"/></svg></body></html>
